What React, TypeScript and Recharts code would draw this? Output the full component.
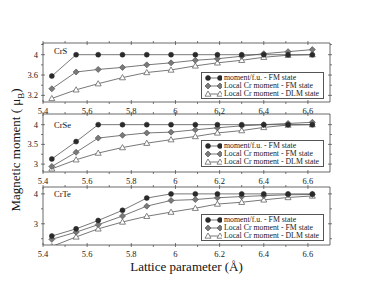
import React from "react";
import { LineChart, Line, XAxis, YAxis, Legend } from "recharts";

// lattice parameter (Å)
const latticeA = [5.44, 5.55, 5.65, 5.76, 5.87, 5.98, 6.09, 6.19, 6.3, 6.4, 6.51, 6.62];

// CrS
const crsMomentFu = [3.58, 4, 4, 4, 4, 4, 4, 4, 4, 4, 4, 4];
const crsLocalFm = [3.33, 3.66, 3.71, 3.75, 3.8, 3.84, 3.89, 3.92, 3.97, 4.02, 4.06, 4.1];
const crsLocalDlm = [3.14, 3.31, 3.43, 3.55, 3.65, 3.7, 3.78, 3.84, 3.89, 3.95, 3.99, 4.0];

// CrSe
const crseMomentFu = [3.13, 3.57, 4, 4, 4, 4, 4, 4, 4, 4, 4, 4];
const crseLocalFm = [2.94, 3.3, 3.66, 3.73, 3.79, 3.81, 3.87, 3.92, 3.97, 4.0, 4.03, 4.06];
const crseLocalDlm = [2.88, 3.11, 3.28, 3.42, 3.53, 3.62, 3.7, 3.79, 3.85, 3.93, 3.99, 4.0];

// CrTe
const crteMomentFu = [2.59, 2.83, 3.11, 3.45, 3.86, 4.0, 4, 4, 4, 4, 4, 4];
const crteLocalFm = [2.48, 2.72, 2.97, 3.26, 3.59, 3.78, 3.81, 3.87, 3.91, 3.94, 3.97, 3.98];
const crteLocalDlm = [2.24, 2.56, 2.83, 3.06, 3.25, 3.39, 3.52, 3.66, 3.72, 3.8, 3.88, 3.93];

const xTicks = [5.4, 5.5, 5.6, 5.7, 5.8, 5.9, 6, 6.1, 6.2, 6.3, 6.4, 6.5, 6.6];
const xLabels = [5.4, 5.6, 5.8, 6, 6.2, 6.4, 6.6];

const crsYTicks = [3.2, 3.4, 3.6, 3.8, 4, 4.2];
const crsYLabels = [3.2, 3.6, 4];
const crseYTicks = [3, 3.25, 3.5, 3.75, 4];
const crseYLabels = [3, 3.5, 4];
const crteYTicks = [2.5, 3, 3.5, 4];
const crteYLabels = [3, 4];

const seriesNames = [
  "moment/f.u. - FM state",
  "Local Cr moment - FM state",
  "Local Cr moment - DLM state",
];

const SERIF = "'Liberation Serif', 'Times New Roman', serif";
const FRAME = "#444";
const LINE = "#555";

const isIn = (list: number[], v: number) => list.some((m) => Math.abs(m - v) < 1e-6);

// markers
const Marker = ({ kind, cx, cy }: { kind: string; cx: number; cy: number }) => {
  if (kind === "fm") return <circle cx={cx} cy={cy} r={2.5} fill="#2a2a2a" stroke="#2a2a2a" strokeWidth={0.5} />;
  if (kind === "loc")
    return (
      <polygon
        points={`${cx},${cy - 3} ${cx + 3},${cy} ${cx},${cy + 3} ${cx - 3},${cy}`}
        fill="#7a7a7a"
        stroke="#555"
        strokeWidth={0.7}
      />
    );
  return (
    <polygon
      points={`${cx},${cy - 3} ${cx + 3},${cy + 2.2} ${cx - 3},${cy + 2.2}`}
      fill="#fff"
      stroke="#666"
      strokeWidth={0.8}
    />
  );
};

const dotFor = (kind: string) => (p: any) =>
  p.cx == null || p.cy == null ? <g key={p.index} /> : <Marker key={p.index} kind={kind} cx={p.cx} cy={p.cy} />;

const tickText = { fontFamily: SERIF, fontSize: 8.5, fill: "#222" };

const bottomTick = (p: any) => {
  const major = isIn(xLabels, p.payload.value);
  return (
    <g>
      <line x1={p.x} x2={p.x} y1={p.y} y2={p.y - (major ? 4 : 2)} stroke={FRAME} strokeWidth={0.7} />
      {major && (
        <text x={p.x} y={p.y + 7} dy="0.35em" textAnchor="middle" {...tickText}>
          {String(p.payload.value)}
        </text>
      )}
    </g>
  );
};

const topTick = (p: any) => {
  const major = isIn(xLabels, p.payload.value);
  return <line x1={p.x} x2={p.x} y1={p.y} y2={p.y + (major ? 4 : 2)} stroke={FRAME} strokeWidth={0.7} />;
};

const leftTick = (labels: number[]) => (p: any) => {
  const major = isIn(labels, p.payload.value);
  return (
    <g>
      <line x1={p.x} x2={p.x + (major ? 4 : 2)} y1={p.y} y2={p.y} stroke={FRAME} strokeWidth={0.7} />
      {major && (
        <text x={p.x - 3} y={p.y} dy="0.35em" textAnchor="end" {...tickText}>
          {String(p.payload.value)}
        </text>
      )}
    </g>
  );
};

const rightTick = (labels: number[]) => (p: any) => {
  const major = isIn(labels, p.payload.value);
  return <line x1={p.x} x2={p.x - (major ? 4 : 2)} y1={p.y} y2={p.y} stroke={FRAME} strokeWidth={0.7} />;
};

const kinds = ["fm", "loc", "dlm"];

const renderLegend = () => (
  <div
    style={{
      border: "1px solid #555",
      background: "#fff",
      padding: "1px 0 1px 2px",
      fontFamily: SERIF,
      fontSize: 7.8,
      lineHeight: "8px",
      color: "#222",
      boxSizing: "border-box",
      height: 27,
    }}
  >
    {seriesNames.map((name, i) => (
      <div key={name} style={{ display: "flex", alignItems: "center", height: 8 }}>
        <svg width={18} height={8} style={{ marginRight: 2 }}>
          <line x1={4} x2={16} y1={4} y2={4} stroke={LINE} strokeWidth={0.8} />
          <Marker kind={kinds[i]} cx={4} cy={4} />
          <Marker kind={kinds[i]} cx={16} cy={4} />
        </svg>
        <span style={{ whiteSpace: "nowrap" }}>{name}</span>
      </div>
    ))}
  </div>
);

interface PanelProps {
  title: string;
  fm: number[];
  loc: number[];
  dlm: number[];
  yDomain: [number, number];
  yTicks: number[];
  yLabels: number[];
  top: number;
  bottom: number;
  titleY: number;
  legendTop: number;
  xTitle?: boolean;
}

const Panel = ({ title, fm, loc, dlm, yDomain, yTicks, yLabels, top, bottom, titleY, legendTop, xTitle }: PanelProps) => {
  const data = latticeA.map((a, i) => ({ a, fm: fm[i], loc: loc[i], dlm: dlm[i] }));
  const divTop = top - 10;
  const bottomAxisH = xTitle ? 40 : 14;
  const height = bottom - top + 10 + bottomAxisH;
  return (
    <div style={{ position: "absolute", left: 0, top: divTop }}>
      <LineChart width={374} height={height} data={data} margin={{ top: 9, right: 43, bottom: 0, left: 0 }}>
        <XAxis
          xAxisId="b"
          dataKey="a"
          type="number"
          domain={[5.4, 6.7]}
          ticks={xTicks}
          interval={0}
          tickSize={0}
          tickLine={false}
          height={bottomAxisH}
          tick={bottomTick}
          axisLine={{ stroke: FRAME, strokeWidth: 0.8 }}
          allowDataOverflow
          label={
            xTitle
              ? {
                  content: (lp: any) => (
                    <text
                      x={lp.viewBox.x + lp.viewBox.width / 2}
                      y={lp.viewBox.y + 21}
                      dy="0.35em"
                      textAnchor="middle"
                      fontFamily={SERIF}
                      fontSize={13}
                      fill="#111"
                    >
                      Lattice parameter (Å)
                    </text>
                  ),
                }
              : undefined
          }
        />
        <XAxis
          xAxisId="t"
          orientation="top"
          dataKey="a"
          type="number"
          domain={[5.4, 6.7]}
          ticks={xTicks}
          interval={0}
          tickSize={0}
          tickLine={false}
          height={1}
          tick={topTick}
          axisLine={{ stroke: FRAME, strokeWidth: 0.8 }}
          allowDataOverflow
        />
        <YAxis
          yAxisId="l"
          type="number"
          domain={yDomain}
          ticks={yTicks}
          interval={0}
          tickSize={0}
          tickLine={false}
          width={43}
          tick={leftTick(yLabels)}
          axisLine={{ stroke: FRAME, strokeWidth: 0.8 }}
          allowDataOverflow
        />
        <YAxis
          yAxisId="r"
          orientation="right"
          dataKey="fm"
          type="number"
          domain={yDomain}
          ticks={yTicks}
          interval={0}
          tickSize={0}
          tickLine={false}
          width={1}
          tick={rightTick(yLabels)}
          axisLine={{ stroke: FRAME, strokeWidth: 0.8 }}
          allowDataOverflow
        />
        <Legend
          content={renderLegend}
          layout="horizontal"
          verticalAlign="middle"
          align="center"
          wrapperStyle={{ left: 201, top: legendTop - divTop, width: 123, height: 27 }}
        />
        <Line xAxisId="b" yAxisId="l" dataKey="dlm" name={seriesNames[2]} stroke={LINE} strokeWidth={0.8} dot={dotFor("dlm")} isAnimationActive={false} />
        <Line xAxisId="b" yAxisId="l" dataKey="loc" name={seriesNames[1]} stroke={LINE} strokeWidth={0.8} dot={dotFor("loc")} isAnimationActive={false} />
        <Line xAxisId="b" yAxisId="l" dataKey="fm" name={seriesNames[0]} stroke={LINE} strokeWidth={0.8} dot={dotFor("fm")} isAnimationActive={false} />
      </LineChart>
      <div
        style={{
          position: "absolute",
          left: 54,
          top: titleY - divTop,
          transform: "translateY(-50%)",
          fontFamily: SERIF,
          fontSize: 8.5,
          color: "#111",
          lineHeight: 1,
        }}
      >
        {title}
      </div>
    </div>
  );
};

const App: React.FC = () => {
  return (
    <div style={{ position: "absolute", left: 0, top: 0, width: 374, height: 289, background: "#fff" }}>
      <Panel title="CrS" fm={crsMomentFu} loc={crsLocalFm} dlm={crsLocalDlm} yDomain={[3.07, 4.23]} yTicks={crsYTicks} yLabels={crsYLabels} top={43} bottom={102} titleY={51} legendTop={72} />
      <Panel title="CrSe" fm={crseMomentFu} loc={crseLocalFm} dlm={crseLocalDlm} yDomain={[2.8, 4.27]} yTicks={crseYTicks} yLabels={crseYLabels} top={114} bottom={172} titleY={124.5} legendTop={140} />
      <Panel title="CrTe" fm={crteMomentFu} loc={crteLocalFm} dlm={crteLocalDlm} yDomain={[2.29, 4.23]} yTicks={crteYTicks} yLabels={crteYLabels} top={187} bottom={245} titleY={193.5} legendTop={214} xTitle />
      <div
        style={{
          position: "absolute",
          left: 17,
          top: 150,
          transform: "translate(-50%, -50%) rotate(-90deg)",
          fontFamily: SERIF,
          fontSize: 13,
          whiteSpace: "nowrap",
          color: "#111",
        }}
      >
        Magnetic moment ( μ<sub style={{ fontSize: 9 }}>B</sub>)
      </div>
    </div>
  );
};

export default App;
